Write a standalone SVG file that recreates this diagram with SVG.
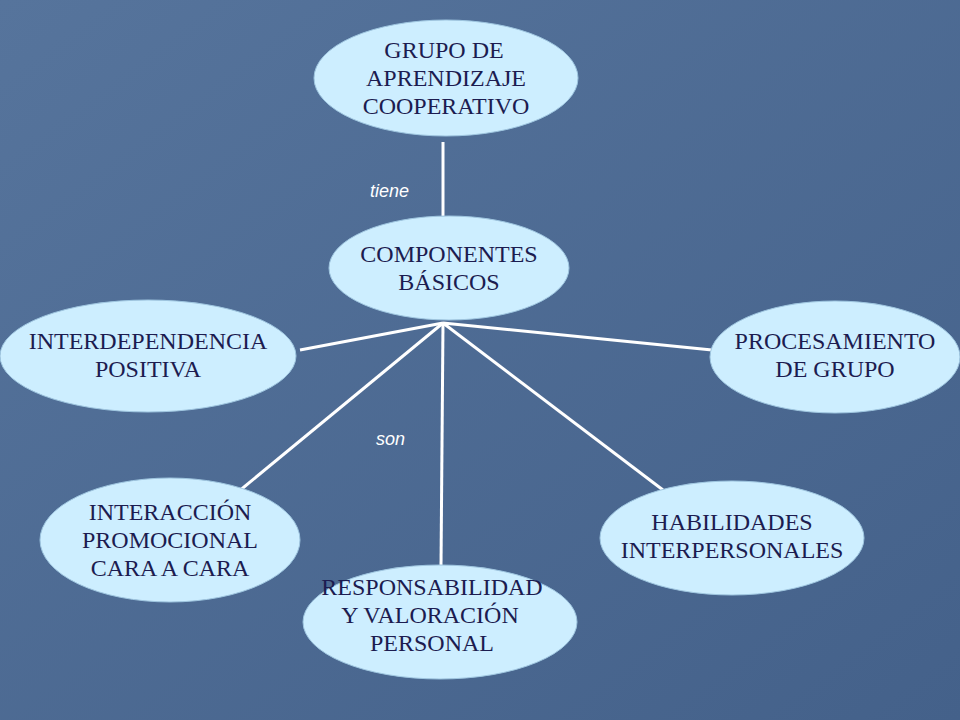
<svg xmlns="http://www.w3.org/2000/svg" width="960" height="720" viewBox="0 0 960 720">
<style>
.n{fill:#cdeeff;stroke:#9fc6e0;stroke-width:1}
.t{font-family:"Liberation Serif",serif;font-size:24px;fill:#1c1c50;text-anchor:middle}
.l{font-family:"Liberation Sans",sans-serif;font-size:18px;font-style:italic;fill:#ffffff}
.c{stroke:#ffffff;stroke-width:3;fill:none}
</style>
<defs><linearGradient id="bg" x1="0" y1="0" x2="1" y2="1"><stop offset="0" stop-color="#56749c"/><stop offset="1" stop-color="#44618a"/></linearGradient></defs>
<rect width="960" height="720" fill="url(#bg)"/>
<g id="connectors">
<line class="c" x1="443" y1="142" x2="443" y2="216"/>
<line class="c" x1="443" y1="323" x2="300" y2="350"/>
<line class="c" x1="443" y1="323" x2="712" y2="350"/>
<line class="c" x1="443" y1="323" x2="238" y2="492"/>
<line class="c" x1="443" y1="323" x2="441" y2="566"/>
<line class="c" x1="443" y1="323" x2="663" y2="490"/>
<text class="l" x="370" y="197">tiene</text>
<text class="l" x="376" y="445">son</text>
</g>
<g id="grupo"><ellipse class="n" cx="446" cy="78" rx="132" ry="58"/><text class="t"><tspan x="444" y="58">GRUPO DE</tspan><tspan x="446" y="86">APRENDIZAJE</tspan><tspan x="446" y="114">COOPERATIVO</tspan></text></g>
<g id="componentes"><ellipse class="n" cx="449" cy="268" rx="120" ry="52"/><text class="t"><tspan x="449" y="262">COMPONENTES</tspan><tspan x="449" y="290">BÁSICOS</tspan></text></g>
<g id="interdependencia"><ellipse class="n" cx="148" cy="356" rx="148" ry="56"/><text class="t"><tspan x="148" y="349">INTERDEPENDENCIA</tspan><tspan x="148" y="377">POSITIVA</tspan></text></g>
<g id="procesamiento"><ellipse class="n" cx="835" cy="357" rx="125" ry="56"/><text class="t"><tspan x="835" y="349">PROCESAMIENTO</tspan><tspan x="835" y="377">DE GRUPO</tspan></text></g>
<g id="interaccion"><ellipse class="n" cx="170" cy="540" rx="130" ry="62"/><text class="t"><tspan x="170" y="520">INTERACCIÓN</tspan><tspan x="170" y="548">PROMOCIONAL</tspan><tspan x="170" y="576">CARA A CARA</tspan></text></g>
<g id="habilidades"><ellipse class="n" cx="732" cy="538" rx="132" ry="57"/><text class="t"><tspan x="732" y="530">HABILIDADES</tspan><tspan x="732" y="558">INTERPERSONALES</tspan></text></g>
<g id="responsabilidad"><ellipse class="n" cx="440" cy="622" rx="137" ry="57"/><text class="t"><tspan x="432" y="595">RESPONSABILIDAD</tspan><tspan x="430" y="623">Y VALORACIÓN</tspan><tspan x="432" y="651">PERSONAL</tspan></text></g>
</svg>
